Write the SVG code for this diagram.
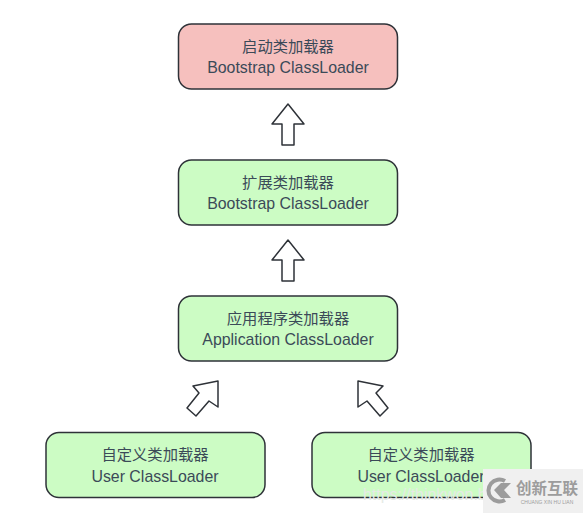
<svg xmlns="http://www.w3.org/2000/svg" width="583" height="513" viewBox="0 0 583 513">
<style>
.box{stroke:#2e3238;stroke-width:1.5}
.green{fill:#ccfcc4}
.red{fill:#f6c0be}
.arrow{fill:#fff;stroke:#2e3238;stroke-width:1.5;stroke-linejoin:round}
text{font-family:"Liberation Sans","Noto Sans CJK SC",sans-serif;font-size:15.900px;fill:#3b4a58;text-anchor:middle}
.cjk{font-family:"Noto Sans CJK SC",sans-serif;font-size:15.300px}
.mark{fill:#9c9c9c}
</style>
<rect width="583" height="513" fill="#fff"/>
<g id="node-bootstrap"><rect class="box red" x="178.500" y="24" width="219" height="65" rx="13"/><text class="cjk" x="288" y="52">启动类加载器</text><text x="288" y="73">Bootstrap ClassLoader</text></g>
<g id="node-extension"><rect class="box green" x="178.500" y="160" width="219" height="65" rx="13"/><text class="cjk" x="288" y="188">扩展类加载器</text><text x="288" y="209">Bootstrap ClassLoader</text></g>
<g id="node-application"><rect class="box green" x="178.500" y="296" width="219" height="65" rx="13"/><text class="cjk" x="288" y="324">应用程序类加载器</text><text x="288" y="345">Application ClassLoader</text></g>
<g id="node-user-left"><rect class="box green" x="46" y="432.500" width="219" height="65" rx="13"/><text class="cjk" x="155" y="460">自定义类加载器</text><text x="155" y="482">User ClassLoader</text></g>
<g id="node-user-right"><rect class="box green" x="312" y="432.500" width="219" height="65" rx="13"/><text class="cjk" x="421" y="460">自定义类加载器</text><text x="421" y="482">User ClassLoader</text></g>
<g id="connectors">
<path class="arrow" d="M288 104 L304 124 H294 V145 H282 V124 H272 Z"/>
<path class="arrow" d="M288 240 L304 260 H294 V281 H282 V260 H272 Z"/>
<path class="arrow" d="M218 381 L193 386 L199 393 L187 408 L196 416 L209 401 L218 407 Z"/>
<path class="arrow" d="M358 381 L383 386 L376 393 L388 408 L380 416 L367 401 L358 407 Z"/>
</g>
<text x="363" y="500" style="fill:#e6ebe6;text-anchor:start">https://thinkwon.b</text>
<rect x="483" y="469" width="100" height="44" fill="#f0f0f0"/>
<path d="M505 481 A11 11 0 1 0 505 500" fill="none" stroke="#9c9c9c" stroke-width="4"/>
<path d="M494 490 L501 483 L511 483 L504 490 L511 498 L501 498 Z" class="mark"/>
<text x="547" y="494" class="mark" style="font-family:'Noto Sans CJK SC',sans-serif;font-size:15.500px;font-weight:700">创新互联</text>
<text x="547" y="504" class="mark" style="font-size:5px">CHUANG XIN HU LIAN</text>
</svg>
